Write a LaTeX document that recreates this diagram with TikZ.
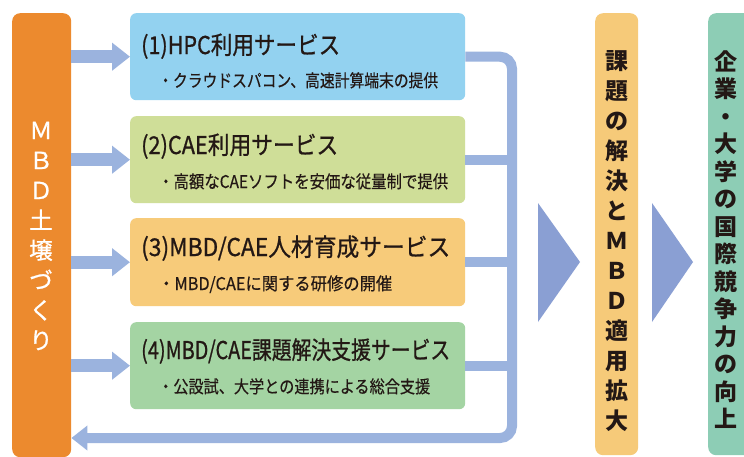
\documentclass[tikz,border=0pt]{standalone}
\usepackage{fontspec}
\setmainfont{Noto Sans CJK JP}
\newfontfamily\jpmid{Noto Sans CJK JP}[FakeBold=0.9]
\newfontfamily\jpsub{Noto Sans CJK JP}[FakeBold=0.5]
\usetikzlibrary{arrows.meta}
\definecolor{orangebar}{HTML}{EC8A2E}
\definecolor{boxa}{HTML}{93D2F0}
\definecolor{boxb}{HTML}{CFDE98}
\definecolor{boxc}{HTML}{F7CB7A}
\definecolor{boxd}{HTML}{A4D4A3}
\definecolor{yellowbar}{HTML}{F6CA79}
\definecolor{tealbar}{HTML}{8DCDB5}
\definecolor{arrowc}{HTML}{9BB3DE}
\definecolor{tric}{HTML}{8A9FD3}
\definecolor{ink}{HTML}{231815}
\newcommand\fitw[2]{\resizebox{#1}{\height}{#2}}
\begin{document}
\begin{tikzpicture}[x=1pt,y=-1pt,
  bar/.style={rounded corners=8pt, inner sep=0pt, anchor=north west},
  svcbox/.style={rounded corners=6pt, inner sep=0pt, anchor=north west, minimum width=335pt},
  title/.style={anchor=base west, inner sep=0pt, text=ink, font=\jpmid\fontsize{24.5}{28}\selectfont},
  subtitle/.style={anchor=base west, inner sep=0pt, text=ink, font=\jpsub\fontsize{17.5}{20}\selectfont},
  vtext/.style={align=center, inner sep=0pt},
  fatarrow/.style={draw=arrowc, line width=13pt, -{Triangle[width=27pt,length=18pt]}},
  connline/.style={draw=arrowc, line width=10pt},
]
\useasboundingbox (0,0) rectangle (744,456);
\clip (0,0) rectangle (744,456);
\fill[white] (0,0) rectangle (744,456);

% bars
\node[bar, fill=orangebar, minimum width=59pt, minimum height=444pt] (mbd) at (12,13) {};
\node[bar, fill=yellowbar, minimum width=43pt, minimum height=442pt] (kadai) at (595,13) {};
\node[bar, fill=tealbar, minimum width=60pt, minimum height=442pt] (kigyo) at (708,13) {};

% bar texts
\node[vtext, text=white, font=\jpmid\fontsize{23.5}{30}\selectfont] (mbdtxt) at (41,236)
  {Ｍ\\Ｂ\\Ｄ\\土\\壌\\づ\\く\\り};
\node[vtext, text=ink, font=\bfseries\fontsize{23}{30}\selectfont] (kadaitxt) at (617,241)
  {課\\題\\の\\解\\決\\と\\Ｍ\\Ｂ\\Ｄ\\適\\用\\拡\\大};
\node[vtext, text=ink, font=\bfseries\fontsize{23}{27.5}\selectfont] (kigyotxt) at (726,239.5)
  {企\\業\\・\\大\\学\\の\\国\\際\\競\\争\\力\\の\\向\\上};

% service boxes
\node[svcbox, fill=boxa, minimum height=87pt] (b1) at (130,13) {};
\node[svcbox, fill=boxb, minimum height=87pt] (b2) at (130,116) {};
\node[svcbox, fill=boxc, minimum height=88pt] (b3) at (130,218) {};
\node[svcbox, fill=boxd, minimum height=87pt] (b4) at (130,322) {};

\node[title] (t1) at (141,54) {\fitw{199pt}{(1)HPC利用サービス}};
\node[subtitle] (s1) at (158,87) {\fitw{280pt}{・クラウドスパコン、高速計算端末の提供}};
\node[title] (t2) at (141,154) {\fitw{197pt}{(2)CAE利用サービス}};
\node[subtitle] (s2) at (158,188) {\fitw{290pt}{・高額なCAEソフトを安価な従量制で提供}};
\node[title] (t3) at (141,256) {\fitw{309pt}{(3)MBD/CAE人材育成サービス}};
\node[subtitle] (s3) at (158,290) {\fitw{234pt}{・MBD/CAEに関する研修の開催}};
\node[title] (t4) at (141,359) {\fitw{309pt}{(4)MBD/CAE課題解決支援サービス}};
\node[subtitle] (s4) at (158,393) {\fitw{272pt}{・公設試、大学との連携による総合支援}};

% arrows into boxes
\draw[fatarrow] (mbd.east |- b1.west) -- (b1.west);
\draw[fatarrow] (mbd.east |- b2.west) -- (b2.west);
\draw[fatarrow] (mbd.east |- b3.west) -- (b3.west);
\draw[fatarrow] (mbd.east |- b4.west) -- (b4.west);

% return connector
\coordinate (vx) at (512,0);
\coordinate (rb) at (0,438);
\draw[connline] (b2.east) -- (b2.east -| vx);
\draw[connline] (b3.east) -- (b3.east -| vx);
\draw[connline] (b4.east) -- (b4.east -| vx);
\draw[connline, rounded corners=12pt, -{Triangle[width=24pt,length=16pt]}]
  (b1.east) -- (b1.east -| vx) -- (vx |- rb) -- (mbd.east |- rb);

% big triangles
\fill[tric] (538,203) -- (580,262) -- (538,322) -- cycle;
\fill[tric] (652,203) -- (693,262) -- (652,322) -- cycle;
\end{tikzpicture}
\end{document}
